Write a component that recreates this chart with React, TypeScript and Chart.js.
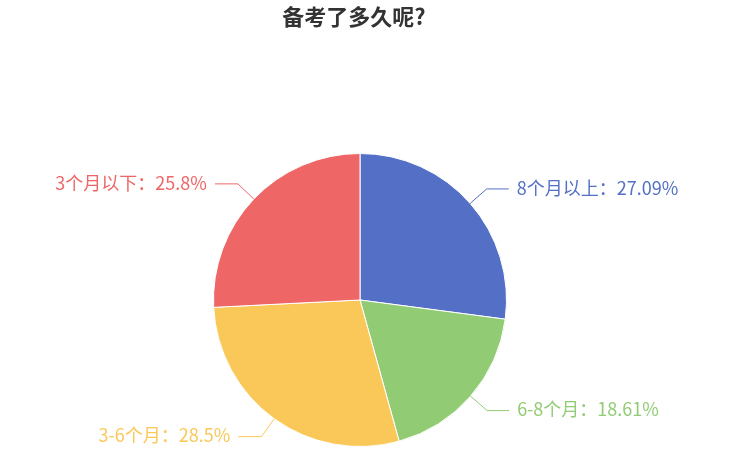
import { useEffect, useRef } from 'react';
import { Chart, registerables } from 'chart.js';

Chart.register(...registerables);

const titleText = '备考了多久呢?';
const categories = ['8个月以上', '6-8个月', '3-6个月', '3个月以下'];
const percents = [27.09, 18.61, 28.5, 25.8];
const colors = ['#5470c6', '#91cc75', '#fac858', '#ee6666'];

const FONT = '"Noto Sans CJK SC", "Noto Sans", sans-serif';

const pieDecor = {
  id: 'pieDecor',
  afterDraw(chart: any) {
    const ctx = chart.ctx;
    ctx.save();
    // title
    ctx.fillStyle = '#333';
    ctx.font = `bold 22px ${FONT}`;
    ctx.textAlign = 'center';
    ctx.textBaseline = 'middle';
    ctx.fillText(titleText, 354, 17);

    // outside labels with leader lines
    const meta = chart.getDatasetMeta(0);
    meta.data.forEach((arc: any, i: number) => {
      const { x, y, startAngle, endAngle, outerRadius } = arc.getProps(
        ['x', 'y', 'startAngle', 'endAngle', 'outerRadius'],
        true
      );
      const mid = (startAngle + endAngle) / 2;
      const cos = Math.cos(mid);
      const sin = Math.sin(mid);
      const x0 = x + outerRadius * cos;
      const y0 = y + outerRadius * sin;
      const x1 = x + (outerRadius + 22) * cos;
      const y1 = y + (outerRadius + 22) * sin;
      const right = cos >= 0;
      const x2 = x1 + (right ? 22 : -23);
      const color = colors[i];
      ctx.strokeStyle = color;
      ctx.lineWidth = 1;
      ctx.beginPath();
      ctx.moveTo(x0, y0);
      ctx.lineTo(x1, y1);
      ctx.lineTo(x2, y1);
      ctx.stroke();
      ctx.fillStyle = color;
      ctx.font = `18px ${FONT}`;
      ctx.textAlign = right ? 'left' : 'right';
      ctx.textBaseline = 'middle';
      ctx.fillText(
        `${categories[i]}：${percents[i]}%`,
        x2 + (right ? 8 : -8),
        y1 - 1
      );
    });
    ctx.restore();
  },
};

export default function App() {
  const chartRef = useRef<HTMLCanvasElement>(null);

  useEffect(() => {
    document.body.style.margin = '0';
    if (!chartRef.current) return;
    const ctx = chartRef.current.getContext('2d');
    if (!ctx) return;

    const chart = new Chart(ctx, {
      type: 'pie',
      data: {
        labels: categories,
        datasets: [
          {
            data: percents,
            backgroundColor: colors,
            borderColor: '#fff',
            borderWidth: 1,
          },
        ],
      },
      options: {
        responsive: true,
        maintainAspectRatio: false,
        animation: false,
        layout: {
          padding: { top: 153, bottom: 14, left: 213, right: 237 },
        },
        plugins: {
          legend: { display: false },
          tooltip: { enabled: false },
          title: { display: false },
        },
      },
      plugins: [pieDecor],
    });

    return () => chart.destroy();
  }, []);

  return (
    <div style={{ position: 'relative', width: 744, height: 461 }}>
      <canvas ref={chartRef} />
    </div>
  );
}
